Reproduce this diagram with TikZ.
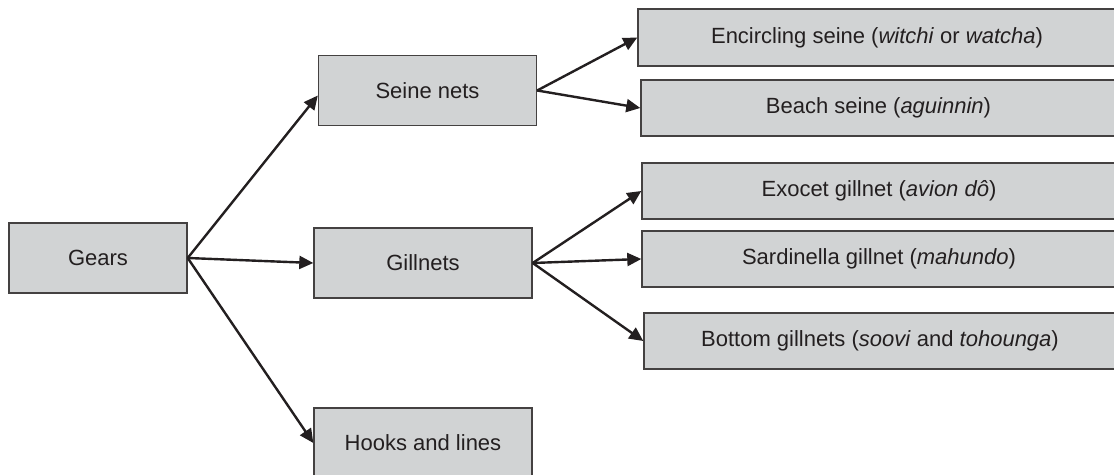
\documentclass[tikz,border=0pt]{standalone}
\usepackage{fontspec}
\setmainfont{Liberation Sans}
\usetikzlibrary{arrows.meta}
\definecolor{boxgrey}{HTML}{D1D3D4}
\definecolor{inkgrey}{HTML}{231F20}
\begin{document}
\begin{tikzpicture}[x=0.5pt, y=-0.5pt,
    gearbox/.style={draw=inkgrey!85, line width=0.7pt, fill=boxgrey, text=inkgrey,
      font=\fontsize{11pt}{13pt}\selectfont, inner sep=0pt},
    leftbox/.style={gearbox, minimum width=109pt, minimum height=35pt},
    typebox/.style={gearbox, minimum height=28pt},
    flow/.style={-{Triangle[length=7pt, width=6.5pt]}, line width=1.2pt, inkgrey}]
    \useasboundingbox (0, 0) rectangle (1114, 475) ;
    \clip (0, 0) rectangle (1114, 475) ;
    \node[gearbox, minimum width=89pt, minimum height=35pt] (gears) at (98, 258) {Gears} ;
    \node[leftbox] (seine) at (427.5, 90.5) {Seine nets} ;
    \node[leftbox] (gill) at (423, 263) {Gillnets} ;
    \node[leftbox] (hooks) at (423, 443) {Hooks and lines} ;
    \node[typebox, minimum width=239pt, minimum height=28.5pt] (encircling) at (877, 37.5)
      {Encircling seine (\textit{witchi} or \textit{watcha})} ;
    \node[typebox, minimum width=237.5pt] (beach) at (878.5, 108)
      {Beach seine (\textit{aguinnin})} ;
    \node[typebox, minimum width=237pt] (exocet) at (879, 191)
      {Exocet gillnet (\textit{avion dô})} ;
    \node[typebox, minimum width=237pt] (sardinella) at (879, 259)
      {Sardinella gillnet (\textit{mahundo})} ;
    \node[typebox, minimum width=236pt] (bottom) at (880, 341)
      {Bottom gillnets (\textit{soovi} and \textit{tohounga})} ;
    \draw[flow] (gears.east) -- ([yshift=-2.5pt]seine.west) ;
    \draw[flow] (gears.east) -- (gill.west) ;
    \draw[flow] (gears.east) -- (hooks.west) ;
    \draw[flow] (seine.east) -- (encircling.west) ;
    \draw[flow] (seine.east) -- (beach.west) ;
    \draw[flow] (gill.east) -- (exocet.west) ;
    \draw[flow] (gill.east) -- (sardinella.west) ;
    \draw[flow] (gill.east) -- (bottom.west) ;
  \end{tikzpicture}
\end{document}
